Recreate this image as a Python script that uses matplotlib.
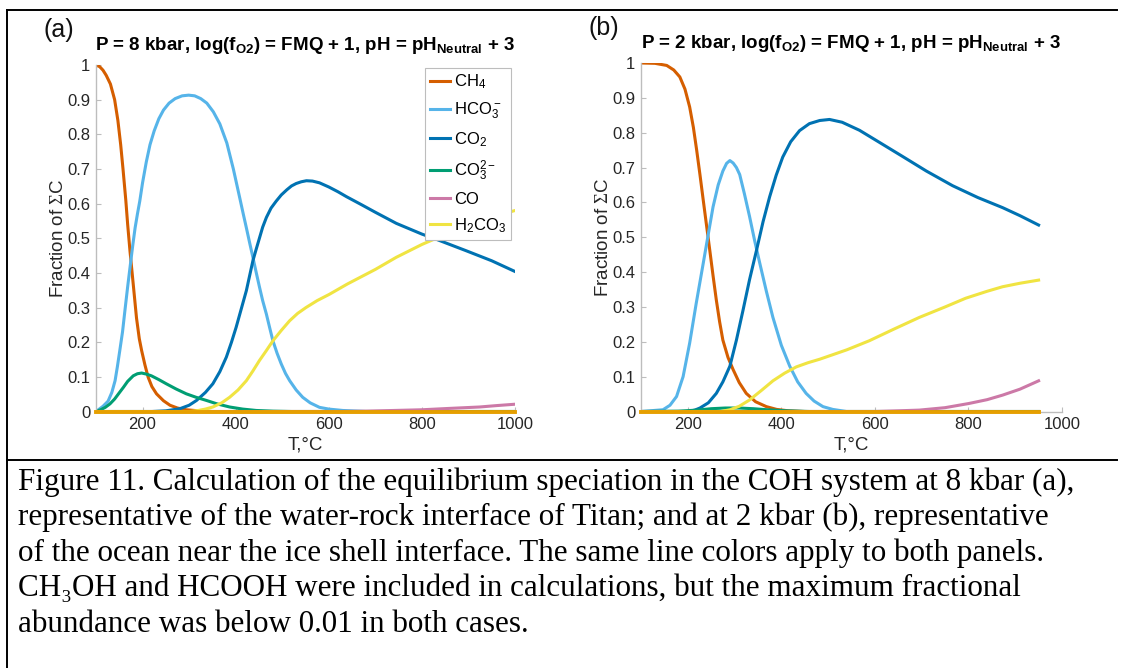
import matplotlib
matplotlib.use("Agg")
from matplotlib import pyplot as plt
from matplotlib.lines import Line2D

plt.rcParams['font.family'] = ['Liberation Sans', 'DejaVu Sans']
plt.rcParams['mathtext.fontset'] = 'custom'
plt.rcParams['mathtext.rm'] = 'Liberation Serif'
plt.rcParams['mathtext.default'] = 'regular'

# species colours (Okabe-Ito)
colors = {
    'CH4': '#D55E00',
    'HCO3': '#56B4E9',
    'CO2': '#0072B2',
    'CO3': '#009E73',
    'CO': '#CC79A7',
    'H2CO3': '#F0E442',
    'other': '#E69F00',
}
labels = {
    'CH4': 'CH$_4$',
    'HCO3': 'HCO$_3^-$',
    'CO2': 'CO$_2$',
    'CO3': 'CO$_3^{2-}$',
    'CO': 'CO',
    'H2CO3': 'H$_2$CO$_3$',
}
order = ['CH4', 'HCO3', 'CO2', 'CO3', 'CO', 'H2CO3']

# ---- (a) 8 kbar ----
a_ch4_T = [100, 108, 115, 122, 131, 140, 147, 153, 158, 164, 168, 173, 180, 187, 193, 198, 205, 212,
           220, 230, 245, 259, 275, 294, 320, 350, 1000]
a_ch4_f = [1.0, 0.995, 0.985, 0.97, 0.945, 0.90, 0.84, 0.77, 0.70, 0.61, 0.54, 0.463, 0.367, 0.27,
           0.21, 0.176, 0.135, 0.099, 0.072, 0.051, 0.031, 0.018, 0.01, 0.005, 0.002, 0.0, 0.0]

a_hco3_T = [100, 105, 115, 126, 134, 141, 146, 151, 157, 162, 168, 173, 179, 184, 189, 194, 200, 208,
            216, 225, 235, 245, 257, 270, 285, 299, 312, 325, 338, 352, 366, 381, 395, 409, 416, 423,
            430, 437, 444, 451, 458, 466, 473, 480, 489, 498, 507, 516, 530, 544, 560, 580, 600, 630,
            680, 1000]
a_hco3_f = [0.0, 0.005, 0.015, 0.03, 0.055, 0.089, 0.13, 0.175, 0.23, 0.29, 0.36, 0.415, 0.48, 0.53,
            0.57, 0.607, 0.66, 0.72, 0.77, 0.81, 0.845, 0.87, 0.89, 0.903, 0.911, 0.913, 0.911, 0.903,
            0.89, 0.865, 0.83, 0.775, 0.70, 0.615, 0.572, 0.53, 0.487, 0.445, 0.402, 0.36, 0.32, 0.281,
            0.242, 0.204, 0.168, 0.137, 0.11, 0.089, 0.062, 0.041, 0.025, 0.012, 0.007, 0.003, 0.0, 0.0]

a_co2_T = [100, 220, 250, 280, 300, 316, 335, 351, 366, 380, 391, 401, 412, 423, 430, 437, 444, 451,
           458, 466, 476, 487, 498, 510, 520, 530, 541, 552, 565, 580, 600, 620, 638, 670, 700, 745,
           800, 831, 860, 895, 950, 1000]
a_co2_f = [0.0, 0.0, 0.002, 0.008, 0.018, 0.032, 0.055, 0.08, 0.115, 0.157, 0.20, 0.243, 0.296, 0.349,
           0.392, 0.435, 0.468, 0.50, 0.532, 0.56, 0.587, 0.607, 0.625, 0.64, 0.651, 0.658, 0.663,
           0.666, 0.665, 0.66, 0.648, 0.634, 0.62, 0.597, 0.575, 0.543, 0.512, 0.497, 0.482, 0.464,
           0.435, 0.404]

a_co3_T = [100, 110, 120, 130, 140, 150, 159, 168, 180, 189, 198, 208, 219, 235, 251, 272, 294, 315,
           337, 360, 387, 415, 444, 480, 520, 1000]
a_co3_f = [0.0, 0.005, 0.012, 0.022, 0.036, 0.054, 0.07, 0.087, 0.103, 0.109, 0.111, 0.108, 0.103,
           0.092, 0.08, 0.065, 0.051, 0.041, 0.032, 0.022, 0.013, 0.007, 0.003, 0.001, 0.0, 0.0]

a_co_T = [100, 620, 680, 740, 800, 860, 924, 960, 1000]
a_co_f = [0.0, 0.0, 0.001, 0.003, 0.005, 0.009, 0.013, 0.017, 0.021]

a_h2co3_T = [100, 301, 320, 335, 351, 370, 387, 405, 423, 437, 451, 466, 480, 498, 516, 533, 551, 575,
             601, 640, 700, 745, 800, 831, 895, 950, 1000]
a_h2co3_f = [0.0, 0.0, 0.003, 0.007, 0.013, 0.025, 0.041, 0.062, 0.089, 0.117, 0.147, 0.176, 0.204,
             0.234, 0.262, 0.283, 0.30, 0.32, 0.338, 0.368, 0.41, 0.445, 0.482, 0.50, 0.538, 0.562, 0.58]

a_other_T = [100, 1000]
a_other_f = [0.0, 0.0]

# ---- (b) 2 kbar ----
b_ch4_T = [100, 130, 155, 170, 183, 194, 204, 212, 219, 226, 233, 240, 247, 254, 261, 268, 275, 286,
           297, 310, 325, 345, 368, 390, 415, 450, 950]
b_ch4_f = [1.0, 0.999, 0.993, 0.98, 0.96, 0.925, 0.874, 0.815, 0.75, 0.68, 0.607, 0.535, 0.463, 0.39,
           0.32, 0.258, 0.205, 0.155, 0.12, 0.083, 0.052, 0.028, 0.014, 0.006, 0.002, 0.0, 0.0]

b_hco3_T = [100, 147, 162, 176, 190, 204, 218, 233, 244, 254, 265, 275, 283, 290, 297, 304, 311, 321,
            332, 343, 354, 368, 382, 400, 418, 435, 453, 470, 489, 510, 539, 950]
b_hco3_f = [0.0, 0.005, 0.018, 0.043, 0.10, 0.196, 0.31, 0.425, 0.51, 0.587, 0.65, 0.69, 0.712, 0.72,
            0.713, 0.70, 0.68, 0.625, 0.56, 0.49, 0.425, 0.345, 0.27, 0.19, 0.13, 0.085, 0.052, 0.03,
            0.014, 0.006, 0.0, 0.0]

b_co2_T = [100, 200, 215, 226, 244, 261, 275, 290, 304, 318, 332, 347, 361, 375, 389, 403, 420, 439,
           460, 482, 503, 530, 567, 610, 659, 710, 766, 820, 873, 910, 950]
b_co2_f = [0.0, 0.0, 0.004, 0.01, 0.025, 0.052, 0.085, 0.13, 0.205, 0.29, 0.378, 0.463, 0.545, 0.616,
           0.678, 0.73, 0.774, 0.806, 0.826, 0.835, 0.838, 0.83, 0.807, 0.772, 0.732, 0.69, 0.648,
           0.614, 0.585, 0.562, 0.535]

b_co3_T = [100, 180, 220, 250, 280, 310, 340, 370, 410, 460, 950]
b_co3_f = [0.0, 0.001, 0.004, 0.008, 0.01, 0.01, 0.008, 0.005, 0.002, 0.0, 0.0]

b_co_T = [100, 600, 650, 695, 750, 801, 840, 873, 910, 950]
b_co_f = [0.0, 0.0, 0.002, 0.004, 0.011, 0.023, 0.034, 0.047, 0.064, 0.088]

b_h2co3_T = [100, 270, 290, 310, 332, 357, 382, 407, 432, 457, 482, 510, 540, 588, 640, 695, 750, 794,
             840, 873, 910, 950]
b_h2co3_f = [0.0, 0.0, 0.005, 0.015, 0.033, 0.06, 0.088, 0.11, 0.128, 0.14, 0.15, 0.163, 0.177, 0.203,
             0.236, 0.27, 0.30, 0.325, 0.345, 0.358, 0.368, 0.377]

b_other_T = [100, 950]
b_other_f = [0.0, 0.0]

panel_a = {
    'CH4': (a_ch4_T, a_ch4_f), 'HCO3': (a_hco3_T, a_hco3_f), 'CO2': (a_co2_T, a_co2_f),
    'CO3': (a_co3_T, a_co3_f), 'CO': (a_co_T, a_co_f), 'H2CO3': (a_h2co3_T, a_h2co3_f),
}
panel_b = {
    'CH4': (b_ch4_T, b_ch4_f), 'HCO3': (b_hco3_T, b_hco3_f), 'CO2': (b_co2_T, b_co2_f),
    'CO3': (b_co3_T, b_co3_f), 'CO': (b_co_T, b_co_f), 'H2CO3': (b_h2co3_T, b_h2co3_f),
}

xticks = [200, 400, 600, 800, 1000]
yticks = [0, 0.1, 0.2, 0.3, 0.4, 0.5, 0.6, 0.7, 0.8, 0.9, 1]
ytick_labels = ['0', '0.1', '0.2', '0.3', '0.4', '0.5', '0.6', '0.7', '0.8', '0.9', '1']

W, H = 1121, 668
fig = plt.figure(figsize=(W / 100, H / 100), dpi=100)


def px_axes(left, top, right, bottom):
    return fig.add_axes([left / W, 1 - bottom / H, (right - left) / W, (bottom - top) / H])


def draw_panel(ax, data, other, tag, pressure):
    for key in order:
        T, f = data[key]
        ax.plot(T, f, color=colors[key], lw=2.2, label=labels[key], solid_joinstyle='round')
    ax.plot(other[0], other[1], color=colors['other'], lw=2.8, label='_nolegend_',
            clip_on=False, zorder=3)
    ax.set_xlim(100, 1000)
    ax.set_ylim(0, 1)
    ax.set_xticks(xticks)
    ax.set_yticks(yticks)
    ax.set_yticklabels(ytick_labels)
    for side in ('top', 'right'):
        ax.spines[side].set_visible(False)
    for side in ('left', 'bottom'):
        ax.spines[side].set_color('#BDBDBD')
        ax.spines[side].set_linewidth(1.0)
    ax.tick_params(direction='in', length=3.5, width=0.8, color='#BDBDBD',
                   labelcolor='#262626', labelsize=12, pad=4)
    ax.set_xlabel('T,°C', fontsize=13.5, color='#262626', labelpad=3)
    ax.set_ylabel(r'Fraction of $\mathrm{\Sigma}$C', fontsize=13.5, color='#262626', labelpad=0.5)
    ax.set_title('P = %d kbar, log(f$_{O2}$) = FMQ + 1, pH = pH$_{Neutral}$ + 3' % pressure,
                 fontsize=13.5, fontweight='bold', pad=11)
    ax.text(-0.125, 1.065, tag, transform=ax.transAxes, fontsize=18, color='#111111',
            ha='left', va='bottom')


ax_a = px_axes(96, 65, 515, 411.5)
draw_panel(ax_a, panel_a, (a_other_T, a_other_f), '(a)', 8)
leg = ax_a.legend(loc='upper right', bbox_to_anchor=(0.99, 0.992), borderaxespad=0,
                  fontsize=12, handlelength=1.25, handletextpad=0.2, labelspacing=0.55,
                  borderpad=0.3, fancybox=False, framealpha=1, edgecolor='#BDBDBD')
leg.get_frame().set_linewidth(0.8)

ax_b = px_axes(641, 63, 1062, 411.5)
draw_panel(ax_b, panel_b, (b_other_T, b_other_f), '(b)', 2)

# frame lines around the figure block
frame = dict(color='black', lw=1.4, transform=fig.transFigure)
fig.add_artist(Line2D([7 / W, 7 / W], [1 - 10 / H, 0], **frame))
fig.add_artist(Line2D([7 / W, 1117 / W], [1 - 10 / H, 1 - 10 / H], **frame))
fig.add_artist(Line2D([7 / W, 1117 / W], [1 - 460 / H, 1 - 460 / H], **frame))

caption = [
    'Figure 11. Calculation of the equilibrium speciation in the COH system at 8 kbar (a),',
    'representative of the water-rock interface of Titan; and at 2 kbar (b), representative',
    'of the ocean near the ice shell interface. The same line colors apply to both panels.',
    'CH\u2083OH and HCOOH were included in calculations, but the maximum fractional',
    'abundance was below 0.01 in both cases.',
]
for i, line in enumerate(caption):
    fig.text(18 / W, 1 - (482 + 35.5 * i) / H, line, family=['Liberation Serif', 'DejaVu Serif'],
             fontsize=22.4, va='center', ha='left', color='black')

fig.savefig('out.png', dpi=100)
